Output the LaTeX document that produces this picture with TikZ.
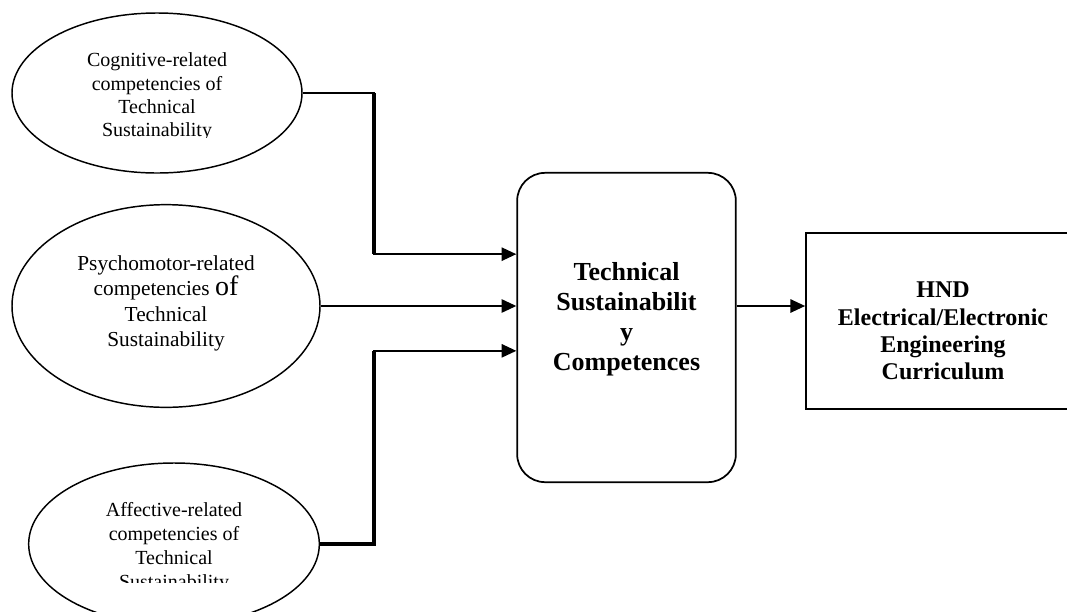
\documentclass[tikz,border=0pt]{standalone}
\usepackage{fontspec}
\setmainfont{Liberation Serif}
\usetikzlibrary{shapes.geometric,arrows.meta}
\begin{document}
\begin{tikzpicture}[x=0.75pt,y=-0.75pt,
        >={Triangle[length=11pt,width=10pt]},
        thinline/.style={line width=1.2pt},
        thickline/.style={line width=2.4pt}]
            \useasboundingbox (0,0) rectangle (1067,611);

            \begin{scope}[every node/.style={ellipse,draw,line width=1.1pt,inner sep=0pt}]
                \node (cog) at (157,93) [minimum width=217.5pt,minimum height=120pt] {};
                \node (psy) at (166,306) [minimum width=231pt,minimum height=152pt] {};
                \node (aff) at (174,544) [minimum width=218pt,minimum height=121.5pt] {};
            \end{scope}

            % ellipse texts, the last lines are cut like in the source
            \begin{scope}[every node/.style={align=center,font=\fontsize{15}{17.5}\selectfont}]
                \begin{scope}
                    \clip (0,0) rectangle (1067,137.5);
                    \node (cogtext) at ([yshift=-3pt]cog) {Cognitive-related\\competencies of\\Technical\\Sustainability};
                \end{scope}
                \node (psytext) at ([yshift=2pt]psy) [font=\fontsize{16}{19}\selectfont] {Psychomotor-related\\competencies {\fontsize{21}{19}\selectfont of}\\Technical\\Sustainability};
                \begin{scope}
                    \clip (0,0) rectangle (1067,582);
                    \node (afftext) at ([yshift=-2.5pt]aff) [font=\fontsize{15}{18}\selectfont] {Affective-related\\competencies of\\Technical\\Sustainability};
                \end{scope}
            \end{scope}

            \begin{scope}[every node/.style={draw,line width=1.3pt}]
                \node (tsc) at (626.5,327.5) [rounded corners=21pt,minimum width=164pt,minimum height=232pt] {};
                \node (hnd) at (943,321) [minimum width=205.5pt,minimum height=132pt] {};
            \end{scope}

            \begin{scope}[every node/.style={align=center}]
                \node (tsctext) at ([yshift=6pt]tsc) [font=\bfseries\fontsize{19.5}{22.5}\selectfont] {Technical\\Sustainabilit\\y\\Competences};
                \node (hndtext) at ([yshift=-7.5pt]hnd) [font=\bfseries\fontsize{18}{20.5}\selectfont] {HND\\Electrical/Electronic\\Engineering\\Curriculum};
            \end{scope}

            \coordinate (bend) at (374,0);
            \coordinate (in1) at ([yshift=55pt]tsc.west);
            \coordinate (in3) at ([yshift=-17.5pt]tsc.west);

            \begin{scope}
                \draw [thinline,->] (cog.east) -| (bend |- in1) -- (in1);
                \draw [thickline] (cog.east -| bend) -- (bend |- in1);
                \draw [thinline,->] (psy.east) -- (psy.east -| tsc.west);
                \draw [thinline,->] (aff.east) -| (bend |- in3) -- (in3);
                \draw [thickline] (aff.east) -| (bend |- in3);
                \draw [thinline,->] (psy.east -| tsc.east) -- (psy.east -| hnd.west);
            \end{scope}
\end{tikzpicture}
\end{document}
